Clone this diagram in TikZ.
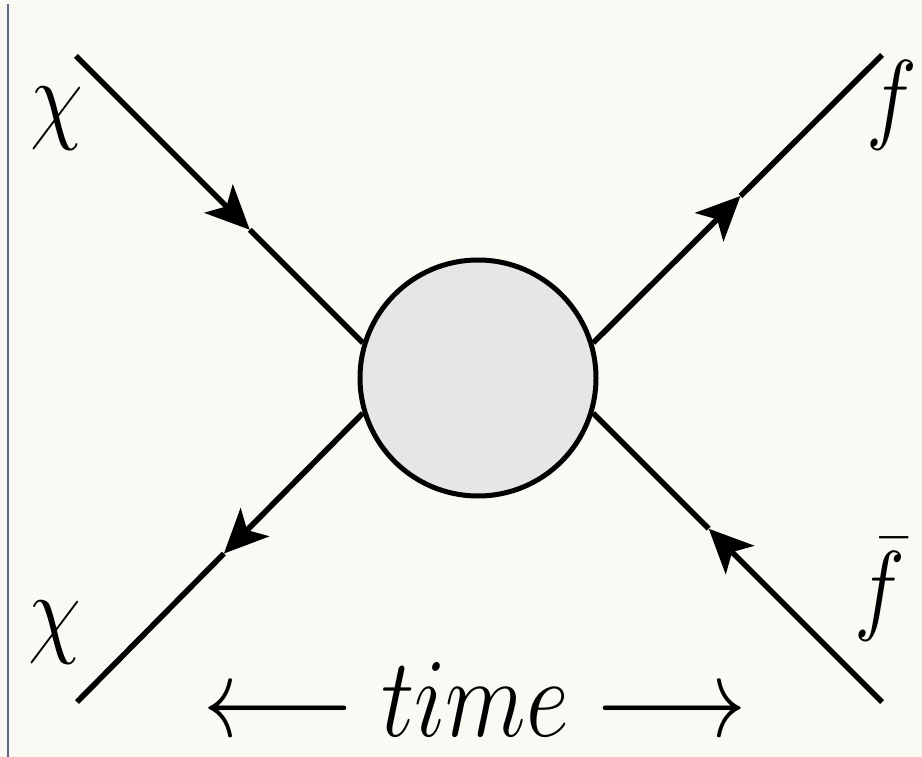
\RequirePackage{fix-cm}
\documentclass[tikz,border=0pt]{standalone}
\usetikzlibrary{arrows.meta,calc}
\definecolor{bg}{RGB}{250,249,243}
\definecolor{blobfill}{RGB}{230,230,232}
\definecolor{edgeline}{RGB}{95,105,135}
\begin{document}
\begin{tikzpicture}[x=1pt,y=-1pt,
  fline/.style={line width=5.6pt, black},
  tipped/.style={-{Stealth[length=44pt,width=40pt,inset=11pt]}},
  lab/.style={inner sep=0pt, anchor=base, font=\fontsize{86}{86}\selectfont},
]
\fill[bg] (0,0) rectangle (922,757);
\useasboundingbox (0,0) rectangle (922,757);
\draw[edgeline, line width=1.5pt] (8,4) -- (8,757);

\node[circle, draw, line width=5pt, fill=blobfill, minimum size=236pt, inner sep=0pt] (blob) at (478,378) {};

\coordinate (tl) at (76,56);
\coordinate (tr) at (882,55);
\coordinate (bl) at (77,702);
\coordinate (br) at (882,702);

\coordinate (tlA) at ($(tl)!0.606!(blob.163)$);
\coordinate (trA) at ($(blob.17)!0.51!(tr)$);
\coordinate (blA) at ($(blob.197)!0.486!(bl)$);
\coordinate (brA) at ($(br)!0.60!(blob.343)$);

\draw[fline, tipped] (tl) -- (tlA);
\draw[fline] (tlA) -- (blob.163);
\draw[fline, tipped] (blob.17) -- (trA);
\draw[fline] (trA) -- (tr);
\draw[fline, tipped] (blob.197) -- (blA);
\draw[fline] (blA) -- (bl);
\draw[fline, tipped] (br) -- (brA);
\draw[fline] (brA) -- (blob.343);

\node[lab] (chiTL) at (57,131) {\scalebox{1}[1.17]{$\chi$}};
\node[lab] (chiBL) at (55,644) {\scalebox{1}[1.17]{$\chi$}};
\node[lab] (fTR) at (892,131) {\scalebox{1}[1.17]{$f$}};
\node[lab] (fBR) at (880,621) {\scalebox{1}[1.17]{$\bar f$}};

\node[inner sep=0pt, anchor=base, font=\fontsize{94}{94}\selectfont] (time) at (475,736)
  {\scalebox{1}[1.2]{$\longleftarrow time \longrightarrow$}};
\end{tikzpicture}
\end{document}
